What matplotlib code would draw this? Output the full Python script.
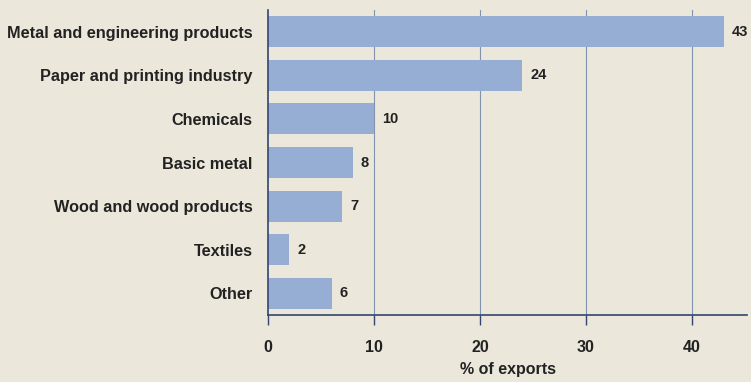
import matplotlib
matplotlib.use("Agg")
import matplotlib.pyplot as plt

categories = [
    "Metal and engineering products",
    "Paper and printing industry",
    "Chemicals",
    "Basic metal",
    "Wood and wood products",
    "Textiles",
    "Other",
]
shares = [43, 24, 10, 8, 7, 2, 6]
x_ticks = [0, 10, 20, 30, 40]

bg = "#ebe7db"
bar_color = "#96aed3"
axis_color = "#33466f"
grid_color = "#8293b0"
text_color = "#222222"

plt.rcParams["font.family"] = ["Liberation Sans", "DejaVu Sans"]
plt.rcParams["font.weight"] = "bold"

fig = plt.figure(figsize=(7.51, 3.82), dpi=100, facecolor=bg)
ax = fig.add_axes([268 / 751, 1 - 315 / 382, (747 - 268) / 751, (315 - 10) / 382])
ax.set_facecolor(bg)

ypos = list(range(len(categories)))
ax.barh(ypos, shares, height=0.71, color=bar_color, zorder=2)

for y, v in zip(ypos, shares):
    ax.text(v + 0.75, y, str(v), va="center", ha="left", fontsize=10.5,
            fontweight="bold", color=text_color)

ax.set_xlim(0, 45.2)
ax.set_ylim(6.5, -0.5)
ax.set_yticks(ypos)
ax.set_yticklabels(categories, fontsize=11.7, fontweight="bold", color=text_color)
ax.set_xticks(x_ticks)
ax.set_xticklabels([str(t) for t in x_ticks], fontsize=11.5, fontweight="bold",
                   color=text_color)
ax.tick_params(axis="y", length=0, pad=11)
ax.tick_params(axis="x", length=7, width=1, color=axis_color, pad=11)

for t in x_ticks[1:]:
    ax.axvline(t, color=grid_color, linewidth=0.8, zorder=1)

for side in ("top", "right"):
    ax.spines[side].set_visible(False)
for side in ("left", "bottom"):
    ax.spines[side].set_color(axis_color)
    ax.spines[side].set_linewidth(1.2)

ax.set_xlabel("% of exports", fontsize=11.5, fontweight="bold", color=text_color,
              labelpad=5)

fig.savefig("out.png", dpi=100, facecolor=bg)
